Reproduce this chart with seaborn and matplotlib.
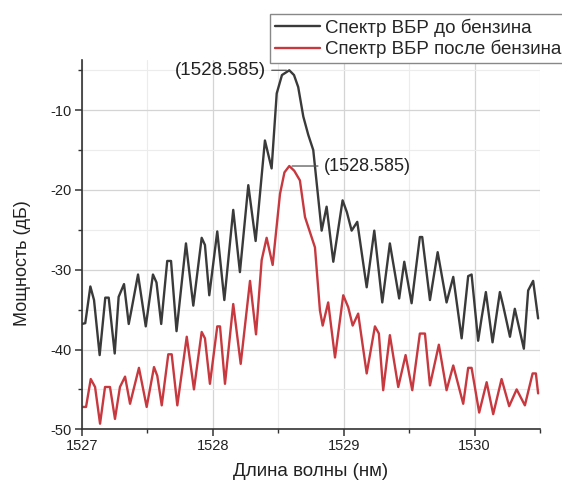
import matplotlib
matplotlib.use("Agg")
import matplotlib.pyplot as plt
from matplotlib.ticker import MultipleLocator
import seaborn as sns
import pandas as pd

# спектр ВБР до бензина
wl_before = [1527.000, 1527.027, 1527.066, 1527.094, 1527.137, 1527.180, 1527.206, 1527.252,
             1527.282, 1527.323, 1527.359, 1527.379, 1527.430, 1527.489, 1527.544, 1527.571,
             1527.607, 1527.653, 1527.682, 1527.724, 1527.796, 1527.852, 1527.916, 1527.941,
             1527.974, 1528.035, 1528.089, 1528.157, 1528.208, 1528.272, 1528.328, 1528.399,
             1528.450, 1528.489, 1528.529, 1528.585, 1528.621, 1528.653, 1528.692, 1528.730,
             1528.768, 1528.832, 1528.870, 1528.921, 1528.992, 1529.025, 1529.061, 1529.104,
             1529.176, 1529.234, 1529.295, 1529.353, 1529.424, 1529.463, 1529.519, 1529.582,
             1529.600, 1529.659, 1529.718, 1529.786, 1529.837, 1529.901, 1529.951, 1529.977,
             1530.027, 1530.053, 1530.086, 1530.137, 1530.193, 1530.218, 1530.270, 1530.307,
             1530.376, 1530.409, 1530.447, 1530.485]
pw_before = [-36.8, -36.7, -32.1, -33.8, -40.7, -33.5, -33.5, -40.5,
             -33.4, -31.8, -36.8, -35.1, -30.6, -37.1, -30.6, -31.6,
             -36.8, -28.9, -28.9, -37.7, -26.7, -34.5, -26.0, -26.9,
             -33.2, -25.2, -33.8, -22.5, -30.3, -19.4, -26.4, -13.8,
             -17.3, -7.9, -5.6, -5.0, -5.6, -7.1, -10.8, -13.1,
             -15.0, -25.1, -22.1, -29.0, -21.3, -22.8, -25.1, -24.0,
             -32.2, -25.1, -34.1, -26.7, -33.6, -29.0, -34.2, -25.9,
             -25.9, -33.8, -27.8, -34.1, -30.9, -38.6, -30.8, -30.6,
             -38.9, -36.1, -32.8, -39.1, -32.8, -34.5, -38.4, -34.9,
             -39.9, -32.6, -31.4, -36.1]

# спектр ВБР после бензина
wl_after = [1527.000, 1527.033, 1527.069, 1527.102, 1527.140, 1527.178, 1527.216, 1527.254,
            1527.292, 1527.331, 1527.369, 1527.437, 1527.496, 1527.552, 1527.577, 1527.611,
            1527.661, 1527.687, 1527.730, 1527.802, 1527.857, 1527.916, 1527.941, 1527.979,
            1528.035, 1528.056, 1528.094, 1528.157, 1528.214, 1528.285, 1528.331, 1528.374,
            1528.412, 1528.458, 1528.514, 1528.548, 1528.585, 1528.623, 1528.666, 1528.705,
            1528.743, 1528.781, 1528.819, 1528.840, 1528.882, 1528.934, 1528.997, 1529.035,
            1529.069, 1529.111, 1529.176, 1529.239, 1529.269, 1529.302, 1529.353, 1529.417,
            1529.473, 1529.524, 1529.582, 1529.621, 1529.659, 1529.727, 1529.786, 1529.837,
            1529.913, 1529.951, 1529.977, 1530.035, 1530.092, 1530.142, 1530.206, 1530.264,
            1530.321, 1530.384, 1530.443, 1530.468, 1530.485]
pw_after = [-47.2, -47.2, -43.7, -44.7, -49.3, -44.7, -44.7, -48.7,
            -44.7, -43.4, -46.8, -42.3, -47.2, -42.2, -43.3, -47.0,
            -40.6, -40.6, -47.0, -38.4, -45.0, -37.8, -38.6, -44.3,
            -37.1, -37.1, -44.3, -34.3, -41.8, -31.4, -38.1, -28.8,
            -26.0, -29.4, -20.5, -17.8, -17.0, -17.6, -18.8, -23.4,
            -25.3, -27.2, -35.1, -37.0, -34.1, -41.0, -33.2, -34.7,
            -37.0, -35.5, -43.0, -37.1, -38.0, -45.1, -38.2, -44.7,
            -40.7, -45.1, -38.0, -38.0, -44.5, -39.4, -45.1, -42.0,
            -46.8, -42.3, -42.3, -47.9, -44.1, -48.1, -43.7, -47.1,
            -45.0, -47.0, -43.0, -43.0, -45.5]

labels = ["Спектр ВБР до бензина", "Спектр ВБР после бензина"]
peak_wl = [1528.585, 1528.585]
peak_pw = [-5.0, -17.0]

sns.set_style("whitegrid")
plt.rcParams['font.family'] = ['Liberation Sans', 'DejaVu Sans']
plt.rcParams['axes.unicode_minus'] = False

df = pd.concat([
    pd.DataFrame({"wl": wl_before, "pw": pw_before, "s": labels[0]}),
    pd.DataFrame({"wl": wl_after, "pw": pw_after, "s": labels[1]}),
])

fig = plt.figure(figsize=(5.62, 4.87), dpi=100)
ax = fig.add_axes([0.1454, 0.1185, 0.8156, 0.7585])

sns.lineplot(data=df, x="wl", y="pw", hue="s", sort=False, estimator=None,
             palette=["#3a3a3a", "#c8383f"], linewidth=1.7, ax=ax, legend=False)
for ln in ax.lines:
    ln.set_solid_joinstyle("round")

ax.set_xlim(1527, 1530.5)
ax.set_ylim(-50, -3.7)
ax.xaxis.set_major_locator(MultipleLocator(1))
ax.xaxis.set_minor_locator(MultipleLocator(0.5))
ax.yaxis.set_major_locator(MultipleLocator(10))
ax.yaxis.set_minor_locator(MultipleLocator(5))
ax.grid(which="major", color="#d4d4d4", linewidth=0.9)
ax.grid(which="minor", color="#ececec", linewidth=0.8)
ax.set_axisbelow(True)
for s in ["top", "right"]:
    ax.spines[s].set_visible(False)
for s in ["left", "bottom"]:
    ax.spines[s].set_color("#333333")
    ax.spines[s].set_linewidth(1.2)
ax.tick_params(which="major", direction="out", length=5, width=1.1, color="#333333",
               labelsize=10.5, labelcolor="#222222", pad=2)
ax.tick_params(which="minor", direction="out", length=3, width=1.0, color="#333333")
ax.tick_params(axis="both", which="both", left=True, bottom=True)

ax.set_xlabel("Длина волны (нм)", fontsize=13.5, color="#222222", labelpad=7)
ax.set_ylabel("Мощность (дБ)", fontsize=13, color="#222222")
ax.yaxis.set_label_coords(-0.11, 0.45)

# подписи пиков
ax.annotate(f"({peak_wl[0]:.3f})", xy=(peak_wl[0], peak_pw[0]), xytext=(-17, 0),
            textcoords="offset points", ha="right", va="center", fontsize=13.5,
            color="#222222", arrowprops=dict(arrowstyle="-", color="#555555", lw=0.9))
ax.annotate(f"({peak_wl[1]:.3f})", xy=(peak_wl[1], peak_pw[1]), xytext=(25, 0),
            textcoords="offset points", ha="left", va="center", fontsize=13,
            color="#222222", arrowprops=dict(arrowstyle="-", color="#555555", lw=0.9))

handles = [plt.Line2D([], [], color="#3a3a3a", lw=1.7),
           plt.Line2D([], [], color="#c8383f", lw=1.7)]
leg = fig.legend(handles, labels, loc="upper left", bbox_to_anchor=(270 / 562, 1 - 14 / 487),
                 fontsize=13.5, frameon=True, fancybox=False, handlelength=2.4,
                 handletextpad=0.3, borderpad=0.25, labelspacing=0.15, borderaxespad=0)
leg.get_frame().set_edgecolor("#888888")
leg.get_frame().set_linewidth(1.0)
leg.get_frame().set_alpha(1)

fig.savefig("out.png", dpi=100)
